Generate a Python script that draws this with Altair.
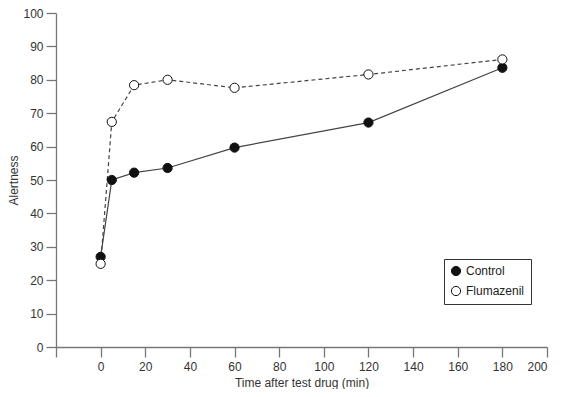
import altair as alt
import pandas as pd

time = [0, 5, 15, 30, 60, 120, 180]
control = [27.0, 50.0, 52.2, 53.6, 59.7, 67.2, 83.6]
flumazenil = [24.9, 67.4, 78.4, 80.0, 77.6, 81.6, 86.1]
series = ["Control", "Flumazenil"]
x_ticks = [-20, 0, 20, 40, 60, 80, 100, 120, 140, 160, 180, 200]
y_ticks = [0, 10, 20, 30, 40, 50, 60, 70, 80, 90, 100]

df = pd.DataFrame({
    "time": time + time,
    "value": control + flumazenil,
    "series": [series[0]] * len(time) + [series[1]] * len(time),
})

FONT = "Liberation Sans"

x = alt.X(
    "time:Q",
    scale=alt.Scale(domain=[-20, 200], nice=False, zero=False),
    axis=alt.Axis(values=x_ticks, labelExpr="datum.value < 0 ? '' : datum.label",
                  title="Time after test drug (min)", labelPadding=4, titlePadding=5),
)
y = alt.Y(
    "value:Q",
    scale=alt.Scale(domain=[0, 100], nice=False),
    axis=alt.Axis(values=y_ticks, title="Alertness", labelPadding=3, titlePadding=2),
)

line_control = alt.Chart(df).transform_filter(
    alt.datum.series == series[0]
).mark_line(color="#444", strokeWidth=1.2).encode(x=x, y=y)

line_flum = alt.Chart(df).transform_filter(
    alt.datum.series == series[1]
).mark_line(color="#444", strokeWidth=1.2, strokeDash=[4, 3]).encode(x=x, y=y)

points = alt.Chart(df).mark_point(shape="circle", filled=True, size=85, stroke="#111", strokeWidth=1, opacity=1).encode(
    x=x,
    y=y,
    fill=alt.Fill(
        "series:N",
        scale=alt.Scale(domain=series, range=["#111111", "#ffffff"]),
        legend=alt.Legend(
            title=None, orient="none", legendX=388, legendY=246,
            strokeColor="#333", fillColor="white", padding=6,
            symbolType="circle", symbolSize=85, symbolStrokeColor="#111",
            symbolStrokeWidth=1, labelOffset=4,
            labelFont=FONT, labelFontSize=12, labelColor="#222", rowPadding=6,
        ),
    ),
)

chart = (
    alt.layer(line_control, line_flum, points)
    .properties(
        width=491, height=334,
        autosize=alt.AutoSizeParams(type="none"),
        padding={"left": 48, "top": 5, "right": 10, "bottom": 42},
    )
    .configure_view(stroke=None)
    .configure_axis(
        grid=False, domainColor="#777", tickColor="#777", domainWidth=1.3, tickWidth=1.3,
        tickSize=10, labelFont=FONT, labelFontSize=12, labelColor="#333",
        titleFont=FONT, titleFontSize=12, titleFontWeight="normal", titleColor="#333",
    )
)

chart.save("out.html", embed_options={"renderer": "svg", "actions": False})
